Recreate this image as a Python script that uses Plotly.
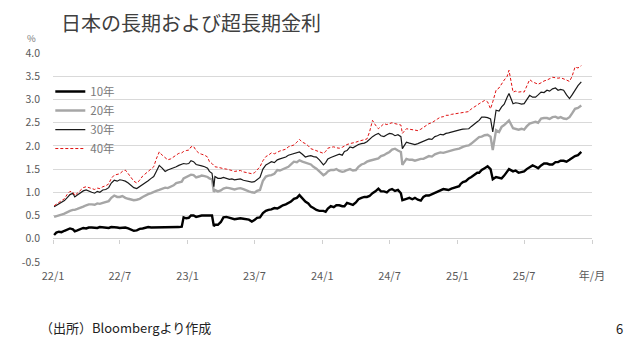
import plotly.graph_objects as go

# Observation dates (roughly weekly, plus event days)
dates = [
    "2022-01-04", "2022-01-10", "2022-01-17", "2022-01-24",
    "2022-02-01", "2022-02-08", "2022-02-16", "2022-02-24",
    "2022-03-01", "2022-03-08", "2022-03-16", "2022-03-24",
    "2022-04-01", "2022-04-08", "2022-04-16", "2022-04-24",
    "2022-05-01", "2022-05-08", "2022-05-16", "2022-05-24",
    "2022-06-01", "2022-06-08", "2022-06-16", "2022-06-24",
    "2022-07-01", "2022-07-08", "2022-07-16", "2022-07-24",
    "2022-08-01", "2022-08-08", "2022-08-16", "2022-08-24",
    "2022-09-01", "2022-09-08", "2022-09-16", "2022-09-24",
    "2022-10-01", "2022-10-08", "2022-10-16", "2022-10-24",
    "2022-11-01", "2022-11-08", "2022-11-16", "2022-11-24",
    "2022-12-01", "2022-12-08", "2022-12-16", "2022-12-21", "2022-12-28",
    "2023-01-04", "2023-01-10", "2023-01-17", "2023-01-24",
    "2023-02-01", "2023-02-08", "2023-02-16", "2023-02-24",
    "2023-03-01", "2023-03-08", "2023-03-13", "2023-03-16", "2023-03-24",
    "2023-04-01", "2023-04-08", "2023-04-16", "2023-04-24",
    "2023-05-01", "2023-05-08", "2023-05-16", "2023-05-24",
    "2023-06-01", "2023-06-08", "2023-06-16", "2023-06-24",
    "2023-07-01", "2023-07-08", "2023-07-16", "2023-07-24",
    "2023-08-01", "2023-08-08", "2023-08-16", "2023-08-24",
    "2023-09-01", "2023-09-08", "2023-09-16", "2023-09-24",
    "2023-10-01", "2023-10-08", "2023-10-16", "2023-10-24", "2023-10-31",
    "2023-11-08", "2023-11-16", "2023-11-24",
    "2023-12-01", "2023-12-08", "2023-12-16", "2023-12-24",
    "2024-01-04", "2024-01-10", "2024-01-16", "2024-01-24",
    "2024-02-01", "2024-02-08", "2024-02-16", "2024-02-24",
    "2024-03-01", "2024-03-08", "2024-03-16", "2024-03-24",
    "2024-04-01", "2024-04-08", "2024-04-16", "2024-04-24",
    "2024-05-01", "2024-05-08", "2024-05-16", "2024-05-24",
    "2024-06-01", "2024-06-08", "2024-06-16", "2024-06-24",
    "2024-07-01", "2024-07-08", "2024-07-16", "2024-07-24",
    "2024-08-01", "2024-08-05", "2024-08-16", "2024-08-24",
    "2024-09-01", "2024-09-08", "2024-09-16", "2024-09-24",
    "2024-10-01", "2024-10-08", "2024-10-16", "2024-10-24",
    "2024-11-01", "2024-11-08", "2024-11-16", "2024-11-24",
    "2024-12-01", "2024-12-08", "2024-12-16", "2024-12-24",
    "2025-01-06", "2025-01-10", "2025-01-16", "2025-01-24",
    "2025-02-01", "2025-02-08", "2025-02-16", "2025-02-24",
    "2025-03-01", "2025-03-08", "2025-03-16", "2025-03-24",
    "2025-04-01", "2025-04-07", "2025-04-16", "2025-04-24",
    "2025-05-01", "2025-05-08", "2025-05-16", "2025-05-21",
    "2025-06-01", "2025-06-08", "2025-06-16", "2025-06-24",
    "2025-07-01", "2025-07-08", "2025-07-16", "2025-07-24",
    "2025-08-01", "2025-08-08", "2025-08-16", "2025-08-24",
    "2025-09-01", "2025-09-08", "2025-09-16", "2025-09-24",
    "2025-10-01", "2025-10-08", "2025-10-16", "2025-10-24",
    "2025-11-01", "2025-11-08", "2025-11-16", "2025-11-24",
    "2025-12-03",
]

y10 = [
    0.08, 0.13, 0.15, 0.14,  0.17, 0.20, 0.22, 0.20,  0.16, 0.18, 0.20, 0.23,
    0.22, 0.24, 0.24, 0.23,  0.23, 0.25, 0.24, 0.23,  0.23, 0.25, 0.25, 0.24,
    0.23, 0.24, 0.24, 0.22,  0.19, 0.17, 0.18, 0.21,  0.22, 0.24, 0.25, 0.24,
    0.24, 0.25, 0.25, 0.24,  0.25, 0.24, 0.25, 0.25,  0.25, 0.25, 0.26, 0.46, 0.44,
    0.45, 0.50, 0.50, 0.47,  0.49, 0.50, 0.50, 0.49,  0.50, 0.50, 0.27, 0.30, 0.30,
    0.36, 0.46, 0.47, 0.45,  0.44, 0.42, 0.43, 0.44,  0.43, 0.42, 0.41, 0.37,
    0.40, 0.45, 0.46, 0.55,  0.60, 0.62, 0.63, 0.66,  0.65, 0.68, 0.72, 0.74,
    0.77, 0.80, 0.86, 0.88, 0.94,  0.86, 0.80, 0.76,  0.69, 0.66, 0.62, 0.60,
    0.60, 0.58, 0.65, 0.70,  0.68, 0.72, 0.72, 0.70,  0.70, 0.77, 0.75, 0.73,
    0.78, 0.85, 0.88, 0.90,  0.90, 0.92, 0.98, 1.02,  1.08, 1.02, 1.02, 1.00,
    1.05, 1.07, 1.03, 1.05,  0.98, 0.83, 0.86, 0.88,  0.85, 0.88, 0.84, 0.82,
    0.90, 0.93, 0.93, 0.96,  0.98, 1.00, 1.03, 1.07,  1.06, 1.05, 1.08, 1.10,
    1.13, 1.18, 1.22, 1.24,  1.30, 1.33, 1.38, 1.42,  1.42, 1.48, 1.52, 1.56,
    1.50, 1.28, 1.33, 1.32,  1.30, 1.36, 1.46, 1.50,  1.45, 1.47, 1.42, 1.43,
    1.45, 1.50, 1.55, 1.58,  1.55, 1.52, 1.58, 1.62,  1.62, 1.60, 1.60, 1.65,
    1.65, 1.68, 1.68, 1.66,  1.70, 1.74, 1.78, 1.80,
    1.87,
]

y20 = [
    0.47, 0.49, 0.50, 0.52,  0.54, 0.57, 0.60, 0.62,  0.62, 0.64, 0.66, 0.69,
    0.72, 0.74, 0.74, 0.73,  0.76, 0.75, 0.77, 0.79,  0.81, 0.88, 0.93, 0.90,
    0.90, 0.92, 0.88, 0.86,  0.85, 0.83, 0.84, 0.86,  0.90, 0.93, 0.96, 0.98,
    1.01, 1.03, 1.05, 1.08,  1.10, 1.09, 1.12, 1.15,  1.20, 1.22, 1.23, 1.30, 1.33,
    1.35, 1.38, 1.37, 1.32,  1.34, 1.36, 1.35, 1.33,  1.30, 1.28, 1.01, 1.05, 1.02,
    1.04, 1.08, 1.10, 1.09,  1.08, 1.06, 1.08, 1.09,  1.07, 1.04, 1.02, 1.00,
    0.99, 1.03, 1.05, 1.25,  1.34, 1.36, 1.37, 1.40,  1.48, 1.47, 1.50, 1.52,
    1.55, 1.60, 1.66, 1.65, 1.69,  1.66, 1.64, 1.62,  1.60, 1.55, 1.51, 1.45,
    1.37, 1.40, 1.45, 1.48,  1.48, 1.50, 1.46, 1.44,  1.45, 1.48, 1.50, 1.47,
    1.48, 1.55, 1.60, 1.62,  1.66, 1.68, 1.70, 1.72,  1.73, 1.78, 1.80, 1.84,
    1.87, 1.92, 1.94, 1.90,  1.87, 1.59, 1.72, 1.70,  1.70, 1.68, 1.70, 1.72,
    1.72, 1.75, 1.78, 1.77,  1.82, 1.84, 1.86, 1.85,  1.87, 1.88, 1.90, 1.92,
    1.94, 1.96, 1.98, 2.00,  2.01, 2.05, 2.10, 2.14,  2.19, 2.20, 2.23, 2.24,
    2.20, 1.91, 2.34, 2.30,  2.41, 2.45, 2.50, 2.55,  2.38, 2.36, 2.35, 2.37,
    2.35, 2.42, 2.48, 2.50,  2.52, 2.50, 2.59, 2.60,  2.60, 2.58, 2.62, 2.63,
    2.60, 2.62, 2.59, 2.58,  2.62, 2.70, 2.80, 2.82,
    2.87,
]

y30 = [
    0.69, 0.72, 0.75, 0.78,  0.82, 0.88, 0.95, 0.98,  0.90, 0.94, 0.98, 1.03,
    1.05, 1.02, 1.00, 0.98,  1.02, 1.00, 1.05, 1.06,  1.10, 1.20, 1.26, 1.24,
    1.27, 1.26, 1.24, 1.20,  1.15, 1.10, 1.08, 1.12,  1.17, 1.20, 1.25, 1.30,
    1.34, 1.45, 1.58, 1.52,  1.45, 1.48, 1.50, 1.52,  1.55, 1.58, 1.60, 1.62, 1.61,
    1.62, 1.68, 1.66, 1.60,  1.59, 1.57, 1.55, 1.52,  1.45, 1.41, 1.12, 1.34, 1.30,
    1.30, 1.32, 1.30, 1.28,  1.29, 1.27, 1.28, 1.29,  1.26, 1.25, 1.24, 1.22,
    1.23, 1.27, 1.32, 1.50,  1.59, 1.62, 1.66, 1.64,  1.70, 1.72, 1.74, 1.76,
    1.80, 1.82, 1.84, 1.85, 1.87,  1.82, 1.76, 1.78,  1.79, 1.77, 1.76, 1.70,
    1.59, 1.64, 1.72, 1.75,  1.77, 1.80, 1.82, 1.80,  1.88, 1.90, 1.98, 1.96,
    2.00, 2.03, 2.05, 2.06,  2.09, 2.15, 2.20, 2.24,  2.27, 2.22, 2.20, 2.24,
    2.27, 2.26, 2.22, 2.24,  2.20, 1.94, 2.08, 2.06,  2.05, 2.03, 2.05, 2.08,
    2.10, 2.12, 2.15, 2.14,  2.20, 2.22, 2.25, 2.24,  2.27, 2.28, 2.30, 2.32,
    2.34, 2.35, 2.36, 2.36,  2.37, 2.42, 2.48, 2.52,  2.55, 2.62, 2.62, 2.61,
    2.58, 2.30, 2.77, 2.75,  2.84, 2.90, 3.05, 3.13,  2.91, 2.93, 2.92, 2.90,
    2.91, 3.00, 3.09, 3.05,  3.05, 3.10, 3.16, 3.15,  3.20, 3.18, 3.23, 3.25,
    3.20, 3.22, 3.20, 3.10,  3.02, 3.10, 3.20, 3.30,
    3.38,
]

y40 = [
    0.71, 0.75, 0.78, 0.82,  0.86, 0.95, 1.02, 1.00,  0.93, 0.98, 1.05, 1.10,
    1.12, 1.10, 1.08, 1.06,  1.09, 1.08, 1.12, 1.14,  1.18, 1.30, 1.37, 1.38,
    1.40, 1.45, 1.48, 1.40,  1.30, 1.24, 1.20, 1.26,  1.35, 1.40, 1.45, 1.50,
    1.55, 1.72, 1.87, 1.80,  1.75, 1.70, 1.72, 1.76,  1.80, 1.84, 1.85, 1.88, 1.90,
    1.91, 1.98, 1.99, 1.90,  1.84, 1.82, 1.80, 1.76,  1.66, 1.62, 1.56, 1.55, 1.54,
    1.52, 1.51, 1.50, 1.49,  1.47, 1.45, 1.46, 1.47,  1.44, 1.43, 1.41, 1.40,
    1.42, 1.48, 1.55, 1.68,  1.77, 1.80, 1.85, 1.83,  1.87, 1.89, 1.91, 1.93,
    1.98, 2.00, 2.02, 2.08, 2.14,  2.08, 2.05, 2.00,  1.94, 1.92, 1.90, 1.88,
    1.84, 1.88, 1.95, 1.97,  1.98, 1.96, 1.95, 1.97,  2.00, 2.03, 2.05, 2.06,
    2.08, 2.10, 2.12, 2.14,  2.15, 2.30, 2.55, 2.45,  2.37, 2.42, 2.48, 2.46,
    2.48, 2.50, 2.48, 2.47,  2.45, 2.27, 2.37, 2.36,  2.35, 2.33, 2.33, 2.36,
    2.40, 2.44, 2.48, 2.50,  2.55, 2.58, 2.62, 2.63,  2.66, 2.66, 2.68, 2.69,
    2.70, 2.71, 2.72, 2.73,  2.74, 2.80, 2.85, 2.88,  2.91, 2.95, 2.98, 2.95,
    2.80, 2.95, 3.20, 3.25,  3.34, 3.42, 3.50, 3.63,  3.16, 3.18, 3.16, 3.17,
    3.16, 3.30, 3.43, 3.38,  3.35, 3.33, 3.36, 3.40,  3.42, 3.45, 3.48, 3.47,
    3.46, 3.47, 3.45, 3.42,  3.39, 3.50, 3.70, 3.68,
    3.73,
]

assert len(dates) == len(y10) == len(y20) == len(y30) == len(y40), (
    len(dates), len(y10), len(y20), len(y30), len(y40))

series_names = ["10年", "20年", "30年", "40年"]
tick_vals = ["2022-01-01", "2022-07-01", "2023-01-01", "2023-07-01", "2024-01-01",
             "2024-07-01", "2025-01-01", "2025-07-01", "2026-01-01"]
tick_text = ["22/1", "22/7", "23/1", "23/7", "24/1", "24/7", "25/1", "25/7", "年/月"]
y_ticks = [-0.5, 0.0, 0.5, 1.0, 1.5, 2.0, 2.5, 3.0, 3.5, 4.0]

FONT = "Noto Sans CJK JP, Noto Sans, sans-serif"
fig = go.Figure()
styles = [
    dict(color="#000000", width=2.4),
    dict(color="#a6a6a6", width=2.4),
    dict(color="#1a1a1a", width=1.2),
    dict(color="#e01010", width=1.0, dash="3px,2px"),
]
for name, vals, st in zip(series_names, [y10, y20, y30, y40], styles):
    fig.add_trace(go.Scatter(x=dates, y=vals, mode="lines", name=name, line=st))

# invisible trace for the tick-mark axis drawn along the zero line
fig.add_trace(go.Scatter(x=[dates[0]], y=[None], xaxis="x2", showlegend=False,
                         hoverinfo="skip", mode="lines"))

fig.update_layout(
    width=630, height=347,
    margin=dict(l=53, r=38, t=53, b=85),
    paper_bgcolor="white", plot_bgcolor="white",
    font=dict(family=FONT, color="#595959", size=11),
    showlegend=True,
    legend=dict(x=-0.005, y=0.885, xanchor="left", yanchor="top",
                bgcolor="rgba(0,0,0,0)", font=dict(size=11.5, color="#7a7a7a"),
                itemwidth=30, tracegroupgap=0),
    xaxis=dict(type="date", range=["2022-01-01", "2026-01-01"],
               tickvals=tick_vals, ticktext=tick_text, showgrid=False,
               zeroline=False, showline=False, ticks="", ticklabelstandoff=6,
               tickfont=dict(size=11, color="#595959")),
    xaxis2=dict(type="date", overlaying="x", matches="x", anchor="free",
                position=0.5 / 4.5, side="bottom", tickvals=tick_vals,
                showticklabels=False, ticks="outside", ticklen=4,
                tickcolor="#d0d0d0", showgrid=False, zeroline=False,
                showline=False),
    yaxis=dict(range=[-0.503, 4.003], tickvals=y_ticks,
               ticktext=[f"{v:.1f}" for v in y_ticks],
               showgrid=True, gridcolor="#d9d9d9", gridwidth=1,
               zeroline=True, zerolinecolor="#d0d0d0", zerolinewidth=1,
               showline=False, ticks="", ticklabelstandoff=12,
               tickfont=dict(size=10.5, color="#595959")),
    annotations=[
        dict(text="日本の長期および超長期金利", xref="paper", yref="paper",
             x=(59 - 53) / 539, y=1 + (53 - 22.5) / 209, xanchor="left",
             yanchor="middle", showarrow=False,
             font=dict(size=20, color="#404040", family=FONT)),
        dict(text="%", xref="paper", yref="paper",
             x=(31 - 53) / 539, y=1 + (53 - 37.5) / 209, xanchor="center",
             yanchor="middle", showarrow=False,
             font=dict(size=9.5, color="#7a7a7a", family=FONT)),
        dict(text="（出所）Bloombergより作成", xref="paper", yref="paper",
             x=(38 - 53) / 539, y=-(327 - 262) / 209, xanchor="left",
             yanchor="middle", showarrow=False,
             font=dict(size=13, color="#222222", family=FONT)),
        dict(text="6", xref="paper", yref="paper",
             x=(619 - 53) / 539, y=-(328 - 262) / 209, xanchor="center",
             yanchor="middle", showarrow=False,
             font=dict(size=13, color="#222222", family=FONT)),
    ],
)

fig.write_html("out.html")
